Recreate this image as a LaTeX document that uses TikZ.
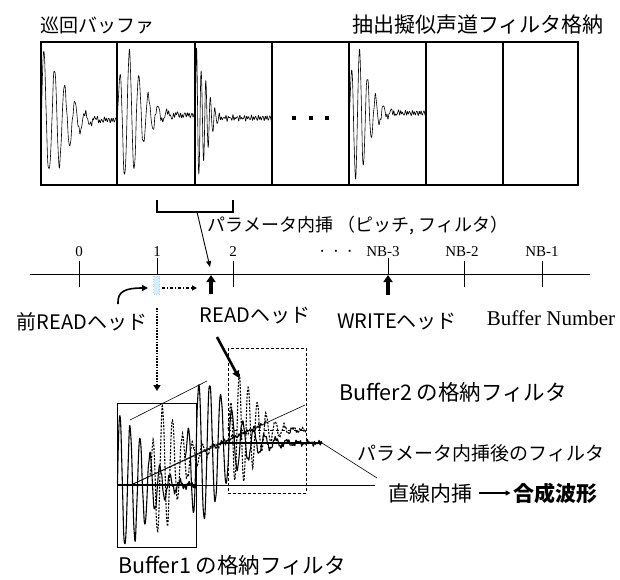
\documentclass[tikz,border=0pt]{standalone}
\usepackage{fontspec}
\setmainfont{Noto Sans CJK JP}
\newfontfamily\tms{Liberation Serif}
\usetikzlibrary{arrows.meta}
\begin{document}
\begin{tikzpicture}[x=1pt,y=-1pt,
  declare function={
    wv(\ta,\aa,\dd,\pp)=\aa*exp(-\ta/\dd)*sin(360*mod(\ta/\pp,1));
    wg(\ta,\aa,\dd,\pp)=\aa*exp(-(\ta/\dd)^2)*sin(360*mod(\ta/\pp,1));
    wr(\ta,\aa,\dd,\pp)=\aa*2.718*(\ta/\dd)*exp(-\ta/\dd)*sin(360*mod(\ta/\pp,1));
    nz(\ta)=1.5*sin(360*mod(\ta/2.3,1))+1.1*sin(360*mod(\ta/3.7,1)+40)+0.8*sin(360*mod(\ta/1.7,1)+70);
  },
  boxline/.style={draw, line width=1.2pt},
  wave/.style={line width=0.6pt, line join=round},
  bwave/.style={line width=1.1pt, line join=round},
  dwave/.style={line width=1.1pt, dash pattern=on 2pt off 1.4pt},
  jp/.style={font=\fontsize{20}{22}\selectfont, inner sep=0pt},
  num/.style={font=\tms\fontsize{15}{16}\selectfont, inner sep=0pt},
  headarrow/.style={line width=3.5pt, -{Triangle[length=7pt,width=9pt]}},
  thinarrow/.style={line width=0.9pt, -{Triangle[length=6pt,width=5pt]}},
]
\useasboundingbox (0,0) rectangle (620,579);

% ---------- titles ----------
\node[jp, font=\fontsize{19}{20}\selectfont] (t1) at (97,25) {巡回バッファ};
\node[jp, font=\fontsize{21}{22}\selectfont] (t2) at (478,25) {抽出擬似声道フィルタ格納};

% ---------- buffer boxes ----------
\foreach \i/\xa/\xb in {1/41/117, 2/117/195, 3/195/272, 4/272/349, 5/349/426, 6/426/503, 7/503/578}
  \draw[boxline] (\xa,42) rectangle (\xb,185) coordinate (bx\i);

% waveforms in buffers
\draw[wave] plot[domain=41.5:117, samples=320] (\x, {120 - wg(\x-41.5,62,30,10.3) - 0.3*wg(\x-41.5,40,14,6.5) - nz(\x-41.5)});
\draw[wave] plot[domain=117.5:195, samples=320] (\x, {115 - wr(\x-117.5,66,9,9.5) - 0.3*wv(\x-117.5,30,9,6) - nz(\x-117.5)});
\draw[wave] plot[domain=195.5:272, samples=340] (\x, {118 - wg(\x-195.5,62,14,4.6) - 0.4*wv(\x-195.5,30,6,3.3) - nz(\x-195.5)});
\draw[wave] plot[domain=349.5:426, samples=320] (\x, {113 - wr(\x-349.5,68,7,8) - 0.3*wv(\x-349.5,30,8,5) - nz(\x-349.5)});

% dots in box 4
\foreach \dx in {294,311,327}
  \fill (\dx-2.3,115.7) rectangle (\dx+2.3,120.3);

% ---------- bracket and parameter interpolation ----------
\draw[line width=1.2pt] (157,200) -- (157,212) coordinate (brl) -- (233,212) -- (233,200);
\coordinate (brm) at (197,212);
\node[jp, font=\fontsize{18}{20}\selectfont] (param) at (358,225) {パラメータ内挿\ （ピッチ, フィルタ）};

% ---------- number line ----------
\coordinate (nl0) at (30,274);
\coordinate (nl1) at (590,274);
\draw[line width=0.9pt] (nl0) -- (nl1);
\foreach \tx in {79,233,464,542}
  \draw[line width=0.8pt] (\tx,261) -- (\tx,287);
\foreach \tx in {157,388}
  \draw[line width=0.8pt] (\tx,258) -- (\tx,274);

\node[num] (n0) at (79,252) {0};
\node[num] (n1) at (157,252) {1};
\node[num] (n2) at (233,252) {2};
\node[num, font=\tms\fontsize{22}{22}\selectfont] (ndots) at (336,252) {$\cdot\,\cdot\,\cdot$};
\node[num] (nb3) at (383,252) {NB-3};
\node[num] (nb2) at (462,252) {NB-2};
\node[num] (nb1) at (542,252) {NB-1};

% heads
\coordinate (rh0) at (211,294);
\coordinate (rh1) at (211,275);
\coordinate (wh0) at (388,295);
\coordinate (wh1) at (388,275);
\draw[headarrow] (rh0) -- (rh1);
\draw[headarrow] (wh0) -- (wh1);
\coordinate (rtip) at (210,267);
\draw[thinarrow] (brm) -- (rtip);

% previous read head marker
\draw[cyan!45, fill=cyan!18, dotted, line width=0.6pt] (153.5,276) rectangle (159.5,294);
\coordinate (pa0) at (162,288);
\coordinate (pa1) at (197,288);
\draw[line width=1.2pt, dash pattern=on 3pt off 2pt on 1pt off 2pt, -{Triangle[length=5pt,width=5pt]}] (pa0) -- (pa1);
\coordinate (cu0) at (118,304);
\coordinate (cu1) at (148,288);
\draw[line width=1.6pt, -{Triangle[length=6pt,width=6pt]}] (cu0) .. controls (117,291) and (126,288) .. (cu1);

% head labels
\node[jp] (prh) at (82,322) {前READヘッド};
\node[jp] (rhl) at (255,316) {READヘッド};
\node[jp] (whl) at (397,322) {WRITEヘッド};
\node[font=\tms\fontsize{21}{22}\selectfont, inner sep=0pt] (bn) at (551,318) {Buffer Number};

% dotted arrow down from previous read head
\coordinate (dv0) at (157,308);
\coordinate (dv1) at (157,391);
\draw[line width=2.6pt, dash pattern=on 1.6pt off 1.2pt, -{Triangle[length=6pt,width=7pt]}] (dv0) -- (dv1);

% thick arrow from READ head to buffer2 filter
\coordinate (ra0) at (217,337);
\coordinate (ra1) at (239,378);
\draw[line width=2.6pt, -{Triangle[length=7pt,width=7pt]}] (ra0) -- (ra1);

% ---------- synthesis area ----------
\draw[line width=1pt] (117,403) rectangle (196,547);
\draw[line width=1pt, dash pattern=on 3pt off 2pt] (228,348) rectangle (306,493);

% waveforms
\draw[dwave] plot[domain=150:266, samples=300] (\x, {484-(\x-133)*79/172 - wr(\x-150,64,11,10) - nz(\x-150)});
\draw[dwave] plot[domain=228:306, samples=260] (\x, {430 - wr(\x-228,55,11,9) - 0.7*nz(\x-228)});
\draw[bwave] plot[domain=117.5:196, samples=300] (\x, {485 - wg(\x-117.5,66,38,10) - 0.3*wv(\x-117.5,30,8,6.5) - nz(\x-117.5)});
\draw[bwave] plot[domain=185:322, samples=380] (\x, {max(443,484-(\x-133)*41/87) - wr(\x-185,70,17,11) - 0.8*nz(\x-185)});
\draw[dashed, line width=0.9pt] (228,430) -- (306,430);

% guide lines
\coordinate (e0) at (130,420);
\coordinate (e1) at (207,381);
\coordinate (g0) at (133,484);
\coordinate (g1) at (305,405);
\coordinate (g2) at (220,443);
\coordinate (g3) at (322,443);
\coordinate (g4) at (377,478);
\coordinate (h0) at (117,485);
\coordinate (h1) at (196,485);
\coordinate (h2) at (375,485);
\draw[line width=0.6pt] (e0) -- (e1);
\draw[line width=0.6pt] (g0) -- (g1);
\draw[line width=0.6pt] (g0) -- (g2);
\draw[line width=2pt] (g2) -- (g3);
\draw[line width=0.6pt] (g3) -- (g4);
\draw[line width=1.8pt] (h0) -- (h1);
\draw[line width=0.8pt] (h1) -- (h2);

% labels
\node[jp, font=\fontsize{21.5}{23}\selectfont] (b2l) at (453,392) {Buffer2 の格納フィルタ};
\node[jp, font=\fontsize{19}{20}\selectfont] (pil) at (481,453) {パラメータ内挿後のフィルタ};
\node[jp, font=\fontsize{21}{22}\selectfont, anchor=west] (lin) at (388,493) {直線内挿};
\node[jp, font=\fontsize{21}{22}\selectfont\bfseries, anchor=east] (syn) at (598,493) {合成波形};
\draw[line width=1.2pt, -{Triangle[length=5pt,width=5pt]}] ([xshift=7pt]lin.east) -- ([xshift=-3pt]syn.west);
\node[jp, font=\fontsize{21.5}{23}\selectfont] (b1l) at (232,565) {Buffer1 の格納フィルタ};
\end{tikzpicture}
\end{document}
